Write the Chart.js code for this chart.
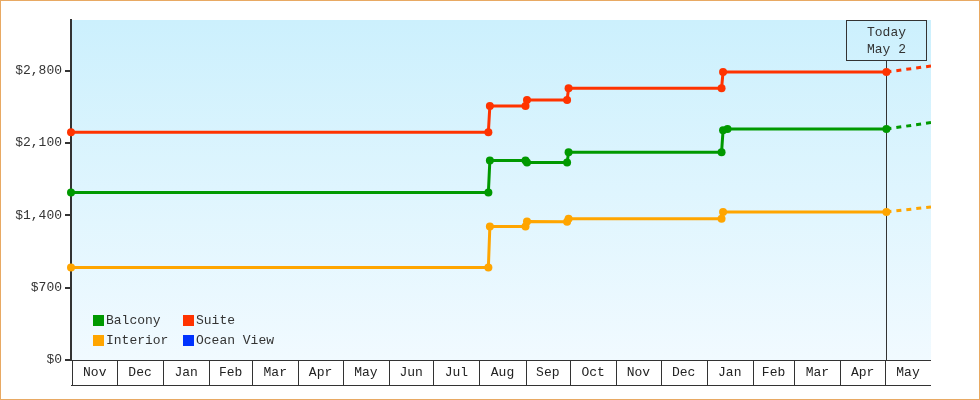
<!DOCTYPE html>
<html>
<head>
<meta charset="utf-8">
<script src="https://cdn.jsdelivr.net/npm/chart.js@4.4.1/dist/chart.umd.min.js"></script>
<style>
html,body{margin:0;padding:0;background:#fff;}
#wrap{width:980px;height:400px;position:relative;}
canvas{display:block;}
</style>
</head>
<body>
<div id="wrap"><canvas id="c" width="980" height="400"></canvas></div>
<script>
// ---------- data ----------
const axisStart = '2023-10-31';
const axisEnd = '2025-06-01';
const todayDate = '2025-05-02';
const todayText = ['Today', 'May 2'];
const monthNames = ['Jan','Feb','Mar','Apr','May','Jun','Jul','Aug','Sep','Oct','Nov','Dec'];
const yTickValues = [0, 700, 1400, 2100, 2800];
const yMax = 3290;

const seriesNames = ['Balcony', 'Suite', 'Interior', 'Ocean View'];
const seriesColors = ['#009900', '#ff3300', '#ffa500', '#0033ff'];

const balconyDates  = ['2023-10-31','2024-08-07','2024-08-08','2024-09-01','2024-09-02','2024-09-29','2024-09-30','2025-01-11','2025-01-12','2025-01-15','2025-05-02','2025-06-01'];
const balconyPrices = [1620, 1620, 1930, 1930, 1910, 1910, 2010, 2010, 2222, 2235, 2235, 2298];

const suiteDates  = ['2023-10-31','2024-08-07','2024-08-08','2024-09-01','2024-09-02','2024-09-29','2024-09-30','2025-01-11','2025-01-12','2025-05-02','2025-06-01'];
const suitePrices = [2205, 2205, 2459, 2459, 2517, 2517, 2630, 2630, 2787, 2787, 2845];

const interiorDates  = ['2023-10-31','2024-08-07','2024-08-08','2024-09-01','2024-09-02','2024-09-29','2024-09-30','2025-01-11','2025-01-12','2025-05-02','2025-06-01'];
const interiorPrices = [895, 895, 1292, 1292, 1340, 1338, 1366, 1366, 1433, 1433, 1481];

const oceanViewDates  = [];
const oceanViewPrices = [];

// ---------- helpers ----------
const FONT = '"Liberation Mono", "DejaVu Sans Mono", monospace';
const DAY = 86400000;
function dayNum(s){ const p = s.split('-').map(Number); return Date.UTC(p[0], p[1]-1, p[2]) / DAY; }
const minDay = dayNum(axisStart), maxDay = dayNum(axisEnd), todayDay = dayNum(todayDate);
function pts(dates, prices){ return dates.map((d,i) => ({x: dayNum(d), y: prices[i]})); }
function fmt(v){ return '$' + v.toLocaleString('en-US'); }

const seriesData = [pts(balconyDates, balconyPrices), pts(suiteDates, suitePrices), pts(interiorDates, interiorPrices), pts(oceanViewDates, oceanViewPrices)];

const datasets = seriesNames.map((name, i) => ({
  label: name,
  data: seriesData[i],
  borderColor: seriesColors[i],
  backgroundColor: seriesColors[i],
  pointBackgroundColor: seriesColors[i],
  borderWidth: 3,
  pointRadius: ctx => (ctx.raw && ctx.raw.x >= maxDay) ? 0 : 4,
  pointBorderWidth: 0,
  pointHoverRadius: 0,
  tension: 0,
  fill: false,
  clip: { left: 6, top: 6, right: 0, bottom: 6 },
  segment: { borderDash: ctx => ctx.p1.parsed.x > todayDay ? [5,5] : undefined }
}));

// ---------- plugins ----------
const bgPlugin = {
  id: 'bg',
  beforeDraw(chart){
    const {ctx, chartArea: a} = chart;
    ctx.save();
    ctx.fillStyle = '#fff';
    ctx.fillRect(0, 0, chart.width, chart.height);
    const g = ctx.createLinearGradient(0, a.top, 0, a.bottom);
    g.addColorStop(0, '#ccf0fd');
    g.addColorStop(1, '#f1faff');
    ctx.fillStyle = g;
    ctx.fillRect(a.left, a.top, a.right - a.left, a.bottom - a.top);
    ctx.restore();
  },
  beforeDatasetsDraw(chart){
    const {ctx, chartArea: a, scales: {x}} = chart;
    const tx = Math.round(x.getPixelForValue(todayDay)) + 0.5;
    ctx.save();
    ctx.strokeStyle = '#333';
    ctx.lineWidth = 1;
    ctx.beginPath();
    ctx.moveTo(tx, a.top + 40);
    ctx.lineTo(tx, a.bottom);
    ctx.stroke();
    ctx.restore();
  },
  afterDraw(chart){
    const {ctx, chartArea: a, scales: {x}} = chart;
    ctx.save();
    // month boxes
    ctx.strokeStyle = '#333';
    ctx.lineWidth = 1;
    ctx.beginPath();
    ctx.moveTo(a.left, a.bottom + 0.5); ctx.lineTo(a.right, a.bottom + 0.5);
    ctx.moveTo(a.left, a.bottom + 25.5); ctx.lineTo(a.right, a.bottom + 25.5);
    ctx.stroke();
    ctx.font = '13px ' + FONT;
    ctx.fillStyle = '#222';
    ctx.textAlign = 'center';
    ctx.textBaseline = 'middle';
    const s = new Date(minDay * DAY);
    let y = s.getUTCFullYear(), m = s.getUTCMonth();
    for (let k = 0; k < 40; k++) {
      const start = Date.UTC(y, m, 1) / DAY;
      const end = Date.UTC(y, m + 1, 1) / DAY;
      if (start >= maxDay) break;
      const x0 = x.getPixelForValue(Math.max(start, minDay));
      const x1 = x.getPixelForValue(Math.min(end, maxDay));
      if (start >= minDay) {
        const bx = Math.round(x0) + 0.5;
        ctx.beginPath(); ctx.moveTo(bx, a.bottom); ctx.lineTo(bx, a.bottom + 25); ctx.stroke();
      }
      if (x1 - x0 > 25) ctx.fillText(monthNames[m], (x0 + x1) / 2, a.bottom + 13);
      m++; if (m > 11) { m = 0; y++; }
    }
    // today box
    const tx = Math.round(x.getPixelForValue(todayDay)) + 0.5;
    ctx.strokeRect(tx - 40, a.top + 0.5, 80, 40);
    ctx.fillStyle = '#333';
    ctx.fillText(todayText[0], tx, a.top + 12.5);
    ctx.fillText(todayText[1], tx, a.top + 29.5);
    // legend
    const cols = [a.left + 22, a.left + 112];
    ctx.textAlign = 'left';
    chart.data.datasets.forEach((ds, i) => {
      const lx = cols[i % 2];
      const ly = a.bottom - 45 + Math.floor(i / 2) * 20;
      ctx.fillStyle = ds.borderColor;
      ctx.fillRect(lx, ly, 11, 11);
      ctx.fillStyle = '#333';
      ctx.fillText(ds.label, lx + 13, ly + 6);
    });
    // outer border
    ctx.strokeStyle = '#e8a963';
    ctx.strokeRect(0.5, 0.5, chart.width - 1, chart.height - 1);
    ctx.restore();
  }
};

new Chart(document.getElementById('c'), {
  type: 'line',
  data: { datasets },
  options: {
    responsive: false,
    animation: false,
    events: [],
    layout: { padding: { left: 0, right: 49, top: 20, bottom: 40 } },
    plugins: { legend: { display: false }, tooltip: { enabled: false } },
    scales: {
      x: { type: 'linear', min: minDay, max: maxDay, display: false },
      y: {
        type: 'linear', min: 0, max: yMax,
        afterBuildTicks: sc => { sc.ticks = yTickValues.map(v => ({ value: v })); },
        afterFit: sc => { sc.width = 71; },
        ticks: { callback: v => fmt(v), font: { family: FONT, size: 13 }, color: '#333', padding: 3 },
        grid: { drawOnChartArea: false, drawTicks: true, tickLength: 6, color: '#333', lineWidth: 2 },
        border: { display: true, color: '#333', width: 2 }
      }
    }
  },
  plugins: [bgPlugin]
});
</script>
</body>
</html>
